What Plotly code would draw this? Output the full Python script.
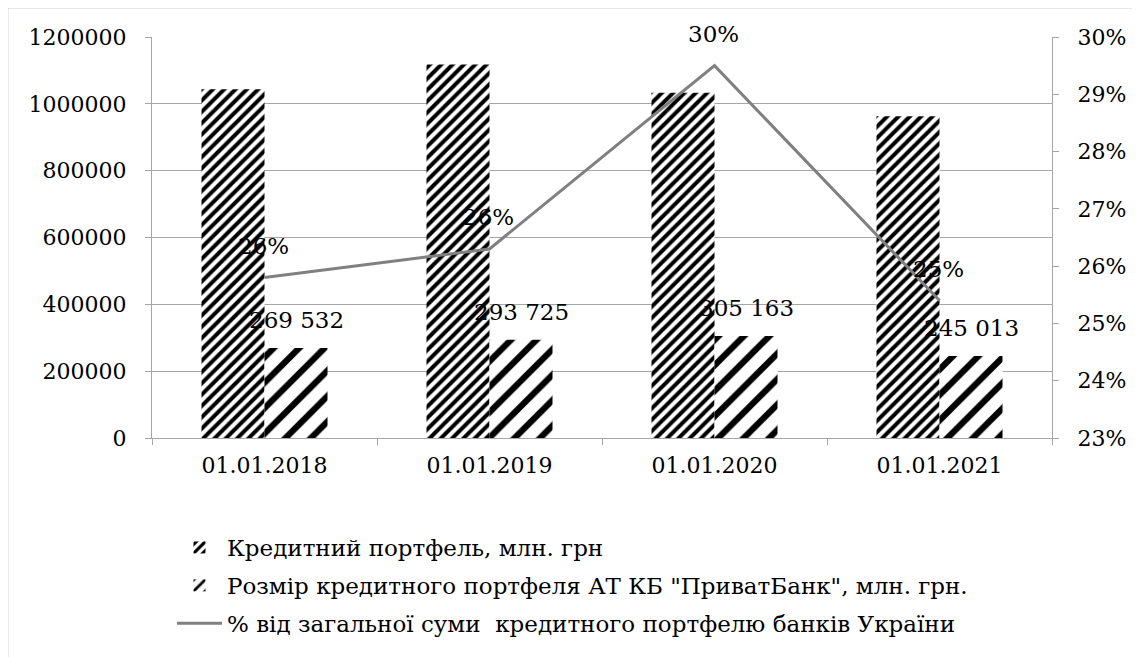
import plotly.graph_objects as go

categories = ["01.01.2018", "01.01.2019", "01.01.2020", "01.01.2021"]
portfolio_total = [1044000, 1118000, 1033000, 963000]
privat_portfolio = [269532, 293725, 305163, 245013]
privat_share = [0.258, 0.263, 0.295, 0.254]
privat_labels = ["269 532", "293 725", "305 163", "245 013"]
share_labels = ["26%", "26%", "30%", "25%"]

names = [
    "Кредитний портфель, млн. грн",
    "Розмір кредитного портфеля АТ КБ \"ПриватБанк\", млн. грн.",
    "% від загальної суми  кредитного портфелю банків України",
]

FONT = "DejaVu Serif"
GRID = "#a6a6a6"
OFF = 8  # page body margin
W, H = 1140 - OFF, 657 - OFF
# reference pixel positions
PL, PR, PT, PB = 152, 1052, 37, 438
L, T = PL - OFF, PT - OFF
R = W - (PR - OFF)
B = H - (PB - OFF)
pw, ph = PR - PL, PB - PT


def px_x(p):
    return (p - PL) / pw


def px_y(p):
    return (PB - p) / ph


fig = go.Figure()
fig.add_trace(go.Bar(
    x=categories, y=portfolio_total, name=names[0], legendgroup="a",
    marker=dict(color="white", line=dict(width=0),
                pattern=dict(shape="/", size=8, solidity=0.5, fgcolor="black",
                             bgcolor="white", fgopacity=1, fillmode="replace")),
))
fig.add_trace(go.Bar(
    x=categories, y=privat_portfolio, name=names[1], legendgroup="b",
    marker=dict(color="white", line=dict(width=0),
                pattern=dict(shape="/", size=18, solidity=0.35, fgcolor="black",
                             bgcolor="white", fgopacity=1, fillmode="replace")),
))
fig.add_trace(go.Scatter(
    x=categories, y=privat_share, name=names[2], yaxis="y2", legendgroup="c",
    mode="lines", line=dict(color="#808080", width=3),
))

annotations = []
for c, v, t in zip(categories, privat_portfolio, privat_labels):
    annotations.append(dict(x=c, y=v, xref="x", yref="y", text=t, showarrow=False,
                            xshift=32, yshift=28, font=dict(size=23, color="black", family=FONT)))
for c, v, t in zip(categories, privat_share, share_labels):
    annotations.append(dict(x=c, y=v, xref="x", yref="y2", text=t, showarrow=False,
                            xshift=-1, yshift=32, font=dict(size=23, color="black", family=FONT)))

fig.update_layout(
    width=W, height=H,
    margin=dict(l=L, r=R, t=T, b=B, autoexpand=False),
    paper_bgcolor="white", plot_bgcolor="white",
    font=dict(family=FONT, size=22, color="black"),
    barmode="group", bargap=0.44, bargroupgap=0,
    showlegend=True,
    legend=dict(orientation="v", x=px_x(172), xanchor="left",
                y=px_y(526), yanchor="top",
                font=dict(size=23, family=FONT, color="black"),
                bgcolor="rgba(0,0,0,0)", itemwidth=45, tracegroupgap=5),
    xaxis=dict(showline=True, linecolor=GRID, linewidth=1, ticks="outside",
               tickson="boundaries", ticklen=6, tickcolor=GRID,
               tickfont=dict(size=22, family=FONT), showgrid=False,
               ticklabelstandoff=8),
    yaxis=dict(range=[0, 1200000], dtick=200000, tickformat="d",
               showline=True, linecolor=GRID, linewidth=1, ticks="outside",
               ticklen=6, tickcolor=GRID, showgrid=True, gridcolor=GRID, gridwidth=1,
               tickfont=dict(size=22, family=FONT), ticklabelstandoff=14, zeroline=False),
    yaxis2=dict(range=[0.23, 0.30], dtick=0.01, tickformat=".0%", overlaying="y",
                side="right", showline=True, linecolor=GRID, linewidth=1,
                ticks="outside", ticklen=6, tickcolor=GRID, showgrid=False,
                tickfont=dict(size=22, family=FONT), ticklabelstandoff=14, zeroline=False),
    annotations=annotations,
    shapes=[dict(type="rect", xref="paper", yref="paper",
                 x0=px_x(7.5), x1=px_x(1180),
                 y0=px_y(700), y1=px_y(7.5),
                 line=dict(color=GRID, width=1.5), fillcolor="rgba(0,0,0,0)", layer="below")],
)

fig.write_html("out.html")
